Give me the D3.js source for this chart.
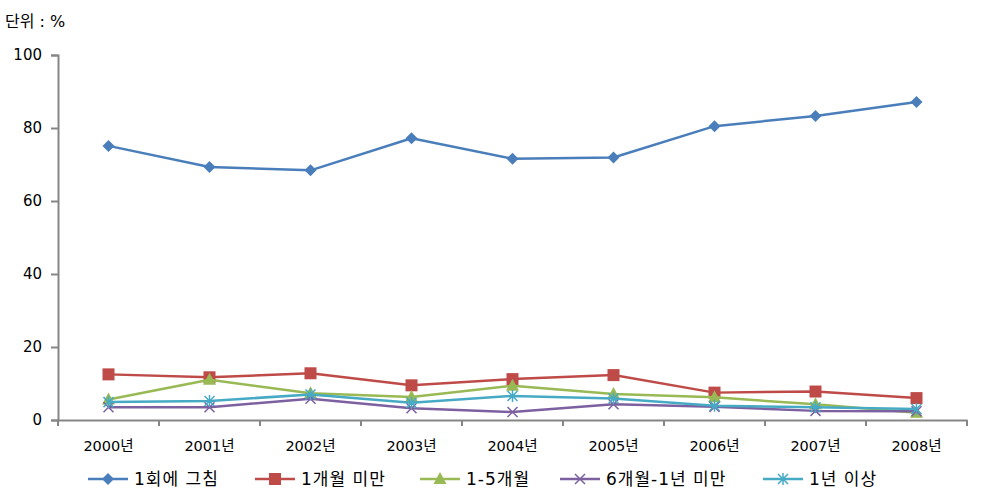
<!DOCTYPE html>
<html><head><meta charset="utf-8">
<script src="https://cdn.jsdelivr.net/npm/d3@7"></script>
<style>body{margin:0;background:#fff;}svg{display:block;font-family:"DejaVu Sans","Noto Sans CJK KR",sans-serif;}</style>
</head><body>
<svg id="c" width="983" height="503"></svg>
<script>
const categories = ["2000년","2001년","2002년","2003년","2004년","2005년","2006년","2007년","2008년"];
const seriesNames = ["1회에 그침","1개월 미만","1-5개월","6개월-1년 미만","1년 이상"];
const once      = [75.1, 69.3, 68.4, 77.2, 71.6, 71.9, 80.5, 83.3, 87.1];
const lt1m      = [12.5, 11.7, 12.8, 9.5, 11.2, 12.3, 7.5, 7.8, 6.0];
const m1to5     = [5.6, 11.0, 7.3, 6.3, 9.4, 7.1, 6.2, 4.3, 2.0];
const m6to1y    = [3.5, 3.5, 5.8, 3.2, 2.2, 4.3, 3.6, 2.5, 2.4];
const over1y    = [4.9, 5.2, 7.0, 4.7, 6.6, 5.9, 3.9, 3.5, 3.0];
const yTicks    = [0, 20, 40, 60, 80, 100];

const data = [once, lt1m, m1to5, m6to1y, over1y];
const colors = ["#4a7ebb","#be4b48","#98b954","#7d60a0","#46aac5"];
const markers = ["diamond","square","triangle","x","star"];

const svg = d3.select("#c");
const m = {l:58, r:967, t:55, b:420};
const x = d3.scaleBand().domain(categories).range([m.l, m.r]);
const y = d3.scaleLinear().domain([0,100]).range([m.b, m.t]);
const axisColor = "#868686";

svg.append("text").attr("x",5).attr("y",27).attr("font-size",16).attr("fill","#000").text("단위 : %");

// y axis
const ya = svg.append("g").attr("transform",`translate(${m.l},0)`)
  .call(d3.axisLeft(y).tickValues(yTicks).tickSize(7).tickPadding(9));
ya.select(".domain").attr("stroke",axisColor).attr("stroke-width",2);
ya.selectAll(".tick line").attr("stroke",axisColor).attr("stroke-width",2);
ya.selectAll(".tick text").attr("font-size",15).attr("fill","#000").attr("font-family","'DejaVu Sans',sans-serif");

// x axis
const xa = svg.append("g").attr("transform",`translate(0,${m.b})`)
  .call(d3.axisBottom(x).tickSize(0).tickPadding(21));
xa.select(".domain").attr("stroke",axisColor).attr("stroke-width",2);
xa.selectAll(".tick text").attr("font-size",14.5).attr("fill","#000").attr("font-family","'DejaVu Sans','Noto Sans CJK KR',sans-serif");
// category boundary ticks
const bounds = categories.map(c=>x(c)).concat([m.r]);
xa.selectAll(".bt").data(bounds).enter().append("line")
  .attr("x1",d=>d).attr("x2",d=>d).attr("y1",0).attr("y2",6)
  .attr("stroke",axisColor).attr("stroke-width",2);

function drawMarker(g, type, cx, cy, color){
  if(type==="diamond"){
    g.append("path").attr("d",`M${cx},${cy-6}L${cx+6},${cy}L${cx},${cy+6}L${cx-6},${cy}Z`).attr("fill",color);
  } else if(type==="square"){
    g.append("rect").attr("x",cx-6).attr("y",cy-6).attr("width",12).attr("height",12).attr("fill",color);
  } else if(type==="triangle"){
    g.append("path").attr("d",`M${cx},${cy-7}L${cx+6.5},${cy+5}L${cx-6.5},${cy+5}Z`).attr("fill",color);
  } else if(type==="x"){
    g.append("path").attr("d",`M${cx-5},${cy-5}L${cx+5},${cy+5}M${cx-5},${cy+5}L${cx+5},${cy-5}`).attr("stroke",color).attr("stroke-width",1.5).attr("fill","none");
  } else if(type==="star"){
    g.append("path").attr("d",`M${cx-5},${cy-5}L${cx+5},${cy+5}M${cx-5},${cy+5}L${cx+5},${cy-5}M${cx},${cy-6}L${cx},${cy+6}`).attr("stroke",color).attr("stroke-width",1.5).attr("fill","none");
  }
}

const line = d3.line().x((d,i)=>x(categories[i])+x.bandwidth()/2).y(d=>y(d));
data.forEach((ser,si)=>{
  const g = svg.append("g");
  g.append("path").datum(ser).attr("d",line).attr("fill","none")
    .attr("stroke",colors[si]).attr("stroke-width",2.5).attr("stroke-linejoin","round");
  ser.forEach((v,i)=>drawMarker(g, markers[si], x(categories[i])+x.bandwidth()/2, y(v), colors[si]));
});

// legend
const legX = [88, 255, 420, 560, 763];
const lg = svg.append("g");
seriesNames.forEach((n,i)=>{
  const lx = legX[i], ly = 479;
  lg.append("line").attr("x1",lx).attr("x2",lx+40).attr("y1",ly).attr("y2",ly).attr("stroke",colors[i]).attr("stroke-width",2.5);
  drawMarker(lg, markers[i], lx+20, ly, colors[i]);
  lg.append("text").attr("x",lx+46).attr("y",ly+6).attr("font-size",17).attr("letter-spacing",1).attr("fill","#000").text(n);
});
</script>
</body></html>
